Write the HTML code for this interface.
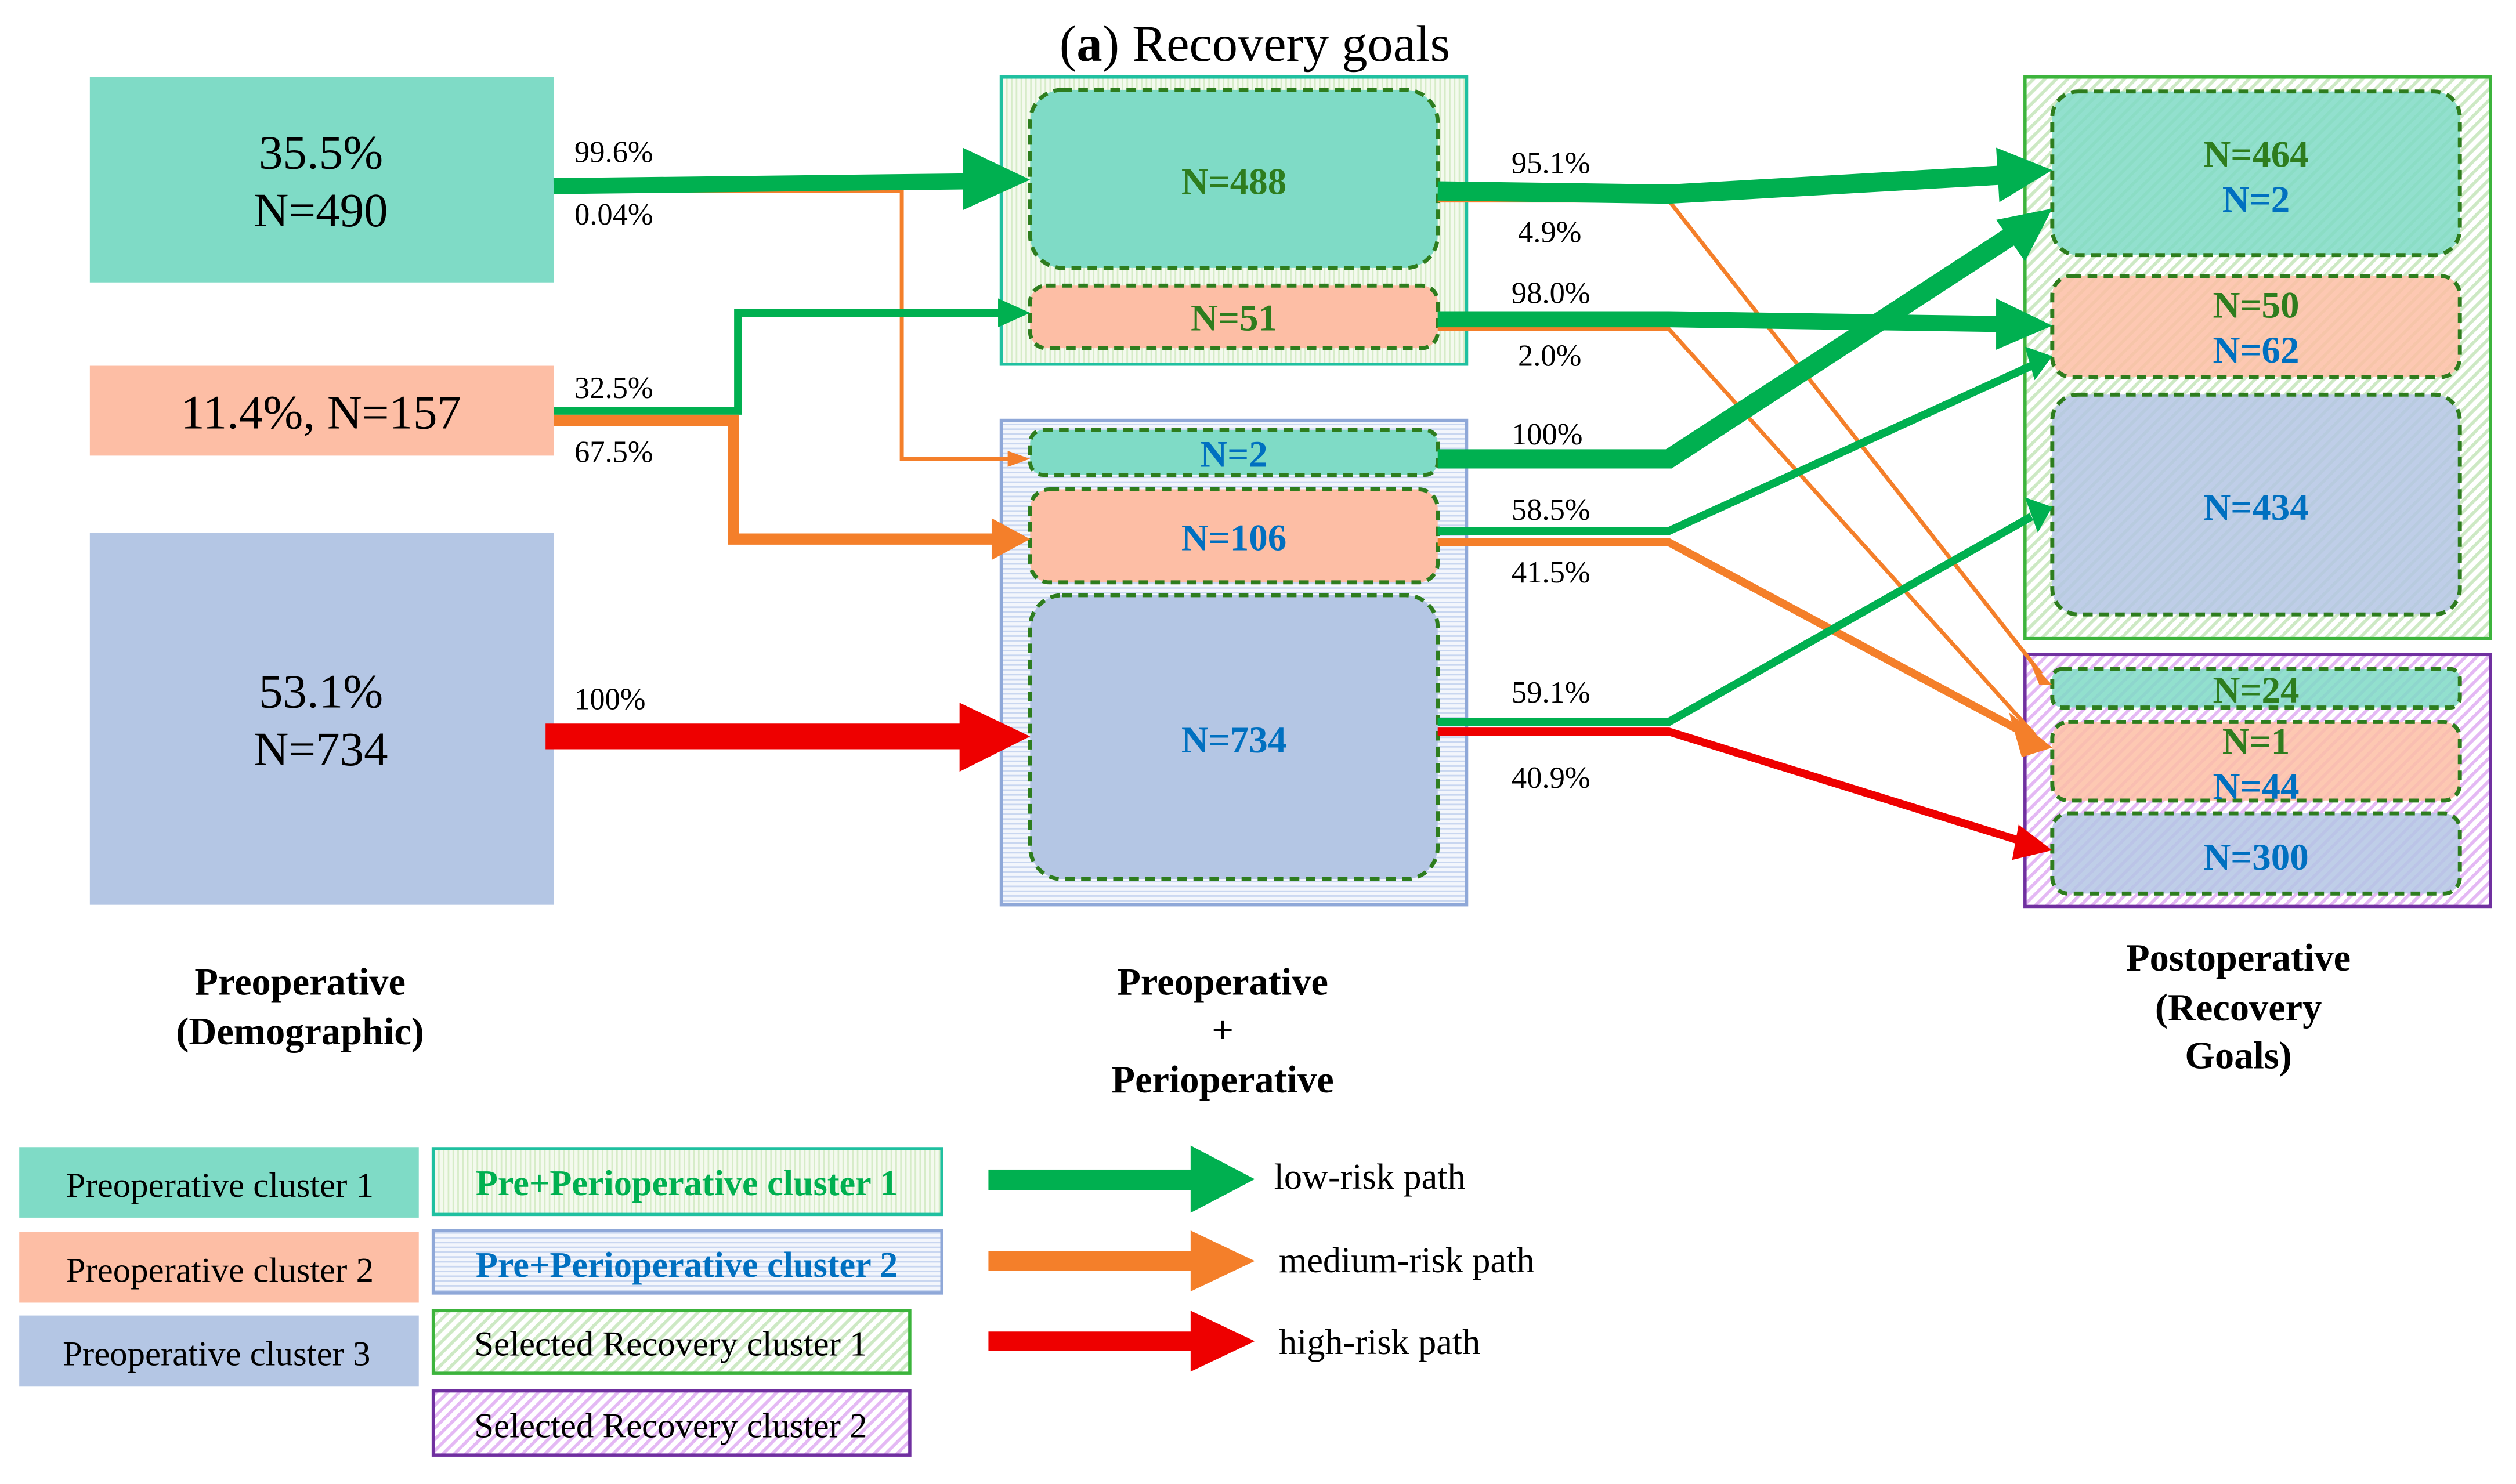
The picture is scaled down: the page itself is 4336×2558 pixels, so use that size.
<!DOCTYPE html>
<html><head><meta charset="utf-8"><style>html,body{margin:0;padding:0;background:#fff}svg{display:block}</style></head>
<body>
<svg width="4336" height="2558" viewBox="0 0 1568 925" xmlns="http://www.w3.org/2000/svg" font-family="'Liberation Serif', serif">
<defs>
<pattern id="vg" width="3" height="3" patternUnits="userSpaceOnUse"><rect width="3" height="3" fill="#f4faee"/><rect width="1" height="3" fill="#d6ecc8"/></pattern>
<pattern id="hb" width="3" height="3" patternUnits="userSpaceOnUse"><rect width="3" height="3" fill="#f3f6fc"/><rect width="3" height="1" fill="#c8d6f0"/></pattern>
<pattern id="dg" width="5" height="5" patternUnits="userSpaceOnUse" patternTransform="rotate(45)"><rect width="5" height="5" fill="#fff"/><rect width="2" height="5" fill="#cde9c4"/></pattern>
<pattern id="dp" width="5" height="5" patternUnits="userSpaceOnUse" patternTransform="rotate(45)"><rect width="5" height="5" fill="#fff"/><rect width="2" height="5" fill="#e4b8f4"/></pattern>
</defs>
<text x="782" y="38" font-size="32" text-anchor="middle">(<tspan font-weight="bold">a</tspan>) Recovery goals</text>

<rect x="56" y="48" width="289" height="128" fill="#7fdbc6"/>
<text x="200" y="105" font-size="30" text-anchor="middle">35.5%</text>
<text x="200" y="141" font-size="30" text-anchor="middle">N=490</text>
<rect x="56" y="228" width="289" height="56" fill="#fdbea5"/>
<text x="200" y="267" font-size="30" text-anchor="middle">11.4%, N=157</text>
<rect x="56" y="332" width="289" height="232" fill="#b4c6e4"/>
<text x="200" y="441" font-size="30" text-anchor="middle">53.1%</text>
<text x="200" y="477" font-size="30" text-anchor="middle">N=734</text>

<rect x="624" y="48" width="290" height="179" fill="url(#vg)" stroke="#1fc0a0" stroke-width="2"/>
<rect x="624" y="262" width="290" height="302" fill="url(#hb)" stroke="#8fa8d8" stroke-width="2"/>
<g stroke="#2e7d1e" stroke-width="2.5" stroke-dasharray="6,4">
<rect x="642" y="56" width="254" height="111" rx="20" fill="#7fdbc6"/>
<rect x="642" y="178" width="254" height="39" rx="10" fill="#fdbea5"/>
<rect x="642" y="268" width="254" height="28" rx="8" fill="#7fdbc6"/>
<rect x="642" y="305" width="254" height="58" rx="12" fill="#fdbea5"/>
<rect x="642" y="371" width="254" height="177" rx="20" fill="#b4c6e4"/>
</g>
<rect x="1262" y="48" width="290" height="350" fill="url(#dg)" stroke="#3cb43c" stroke-width="2"/>
<rect x="1262" y="408" width="290" height="157" fill="url(#dp)" stroke="#7030a0" stroke-width="2"/>
<g stroke="#2e7d1e" stroke-width="2.5" stroke-dasharray="6,4" fill-opacity="0.85">
<rect x="1279" y="57" width="254" height="102" rx="16" fill="#7fdbc6"/>
<rect x="1279" y="172" width="254" height="63" rx="12" fill="#fdbea5"/>
<rect x="1279" y="246" width="254" height="137" rx="16" fill="#b4c6e4"/>
<rect x="1279" y="417" width="254" height="24" rx="6" fill="#7fdbc6"/>
<rect x="1279" y="450" width="254" height="49" rx="10" fill="#fdbea5"/>
<rect x="1279" y="507" width="254" height="50" rx="10" fill="#b4c6e4"/>
</g>
<g font-size="23.5" font-weight="bold" text-anchor="middle">
<text x="769" y="121" fill="#2e7d1e">N=488</text>
<text x="769" y="206" fill="#2e7d1e">N=51</text>
<text x="769" y="291" fill="#0070c0">N=2</text>
<text x="769" y="343" fill="#0070c0">N=106</text>
<text x="769" y="469" fill="#0070c0">N=734</text>
<text x="1406" y="104" fill="#2e7d1e">N=464</text>
<text x="1406" y="132" fill="#0070c0">N=2</text>
<text x="1406" y="198" fill="#2e7d1e">N=50</text>
<text x="1406" y="226" fill="#0070c0">N=62</text>
<text x="1406" y="324" fill="#0070c0">N=434</text>
<text x="1406" y="438" fill="#2e7d1e">N=24</text>
<text x="1406" y="470" fill="#2e7d1e">N=1</text>
<text x="1406" y="498" fill="#0070c0">N=44</text>
<text x="1406" y="542" fill="#0070c0">N=300</text>
</g>

<g fill="none" stroke-linejoin="miter">
<polyline points="345,119 562,119 562,286 630,286" stroke="#f47f2a" stroke-width="2.5"/>
<polyline points="345,116 605,113" stroke="#00b050" stroke-width="10"/>
<polyline points="345,256 460,256 460,195 625,195" stroke="#00b050" stroke-width="5"/>
<polyline points="345,262 457,262 457,336 620,336" stroke="#f47f2a" stroke-width="7"/>
<polyline points="340,459 605,459" stroke="#e00" stroke-width="16"/>
<polyline points="896,125 1040,125 1272,420" stroke="#f47f2a" stroke-width="2.5"/>
<polyline points="896,119 1040,121 1250,109" stroke="#00b050" stroke-width="12"/>
<polyline points="896,205 1040,205 1268,458" stroke="#f47f2a" stroke-width="2.5"/>
<polyline points="896,199 1040,199 1250,202" stroke="#00b050" stroke-width="10"/>
<polyline points="896,286 1040,286 1258,144" stroke="#00b050" stroke-width="12"/>
<polyline points="896,338 1040,338 1260,456" stroke="#f47f2a" stroke-width="5"/>
<polyline points="896,331 1040,331 1266,228" stroke="#00b050" stroke-width="5"/>
<polyline points="896,456 1040,456 1262,525" stroke="#e00" stroke-width="5"/>
<polyline points="896,450 1040,450 1266,322" stroke="#00b050" stroke-width="5"/>
</g>
<g>
<polygon points="600,92 642,112 600,131" fill="#00b050"/>
<polygon points="622,186 642,195 622,204" fill="#00b050"/>
<polygon points="628,281 642,286 628,291" fill="#f47f2a"/>
<polygon points="618,323 642,336 618,349" fill="#f47f2a"/>
<polygon points="598,438 642,459 598,481" fill="#e00"/>
<polygon points="1244,92 1279,106 1246,126" fill="#00b050"/>
<polygon points="1244,186 1279,203 1244,218" fill="#00b050"/>
<polygon points="1244,137 1279,130 1262,163" fill="#00b050"/>
<polygon points="1262,216 1279,222 1268,237" fill="#00b050"/>
<polygon points="1262,310 1279,316 1270,332" fill="#00b050"/>
<polygon points="1265,412 1279,427 1271,427" fill="#f47f2a"/>
<polygon points="1252,444 1279,466 1260,472" fill="#f47f2a"/>
<polygon points="1258,514 1279,530 1254,536" fill="#e00"/>
</g>
<g font-size="19">
<text x="358" y="101">99.6%</text><text x="358" y="140">0.04%</text>
<text x="358" y="248">32.5%</text><text x="358" y="288">67.5%</text>
<text x="358" y="442">100%</text>
<text x="942" y="108">95.1%</text><text x="946" y="151">4.9%</text>
<text x="942" y="189">98.0%</text><text x="946" y="228">2.0%</text>
<text x="942" y="277">100%</text>
<text x="942" y="324">58.5%</text><text x="942" y="363">41.5%</text>
<text x="942" y="438">59.1%</text><text x="942" y="491">40.9%</text>
</g>
<g font-size="24" font-weight="bold" text-anchor="middle">
<text x="187" y="620">Preoperative</text><text x="187" y="651">(Demographic)</text>
<text x="762" y="620">Preoperative</text><text x="762" y="650">+</text><text x="762" y="681">Perioperative</text>
<text x="1395" y="605">Postoperative</text><text x="1395" y="636">(Recovery</text><text x="1395" y="666">Goals)</text>
</g>

<rect x="12" y="715" width="249" height="44" fill="#7fdbc6"/>
<text x="137" y="746" font-size="22" text-anchor="middle">Preoperative cluster 1</text>
<rect x="12" y="768" width="249" height="44" fill="#fdbea5"/>
<text x="137" y="799" font-size="22" text-anchor="middle">Preoperative cluster 2</text>
<rect x="12" y="820" width="249" height="44" fill="#b4c6e4"/>
<text x="135" y="851" font-size="22" text-anchor="middle">Preoperative cluster 3</text>
<rect x="270" y="716" width="317" height="41" fill="url(#vg)" stroke="#1fc0a0" stroke-width="2"/>
<text x="428" y="745" font-size="22.5" font-weight="bold" fill="#00b050" text-anchor="middle">Pre+Perioperative cluster 1</text>
<rect x="270" y="767" width="317" height="39" fill="url(#hb)" stroke="#8fa8d8" stroke-width="2"/>
<text x="428" y="796" font-size="22.5" font-weight="bold" fill="#0070c0" text-anchor="middle">Pre+Perioperative cluster 2</text>
<rect x="270" y="817" width="297" height="39" fill="url(#dg)" stroke="#3cb43c" stroke-width="2"/>
<text x="418" y="845" font-size="22" text-anchor="middle">Selected Recovery cluster 1</text>
<rect x="270" y="867" width="297" height="40" fill="url(#dp)" stroke="#7030a0" stroke-width="2"/>
<text x="418" y="896" font-size="22" text-anchor="middle">Selected Recovery cluster 2</text>

<rect x="616" y="729" width="130" height="13" fill="#00b050"/><polygon points="742,714 782,735 742,756" fill="#00b050"/>
<rect x="616" y="780" width="130" height="12" fill="#f47f2a"/><polygon points="742,767 782,786 742,805" fill="#f47f2a"/>
<rect x="616" y="830" width="130" height="12" fill="#e00"/><polygon points="742,817 782,836 742,855" fill="#e00"/>
<text x="794" y="741" font-size="22.5">low-risk path</text>
<text x="797" y="793" font-size="22.5">medium-risk path</text>
<text x="797" y="844" font-size="22.5">high-risk path</text>
</svg>
</body></html>
